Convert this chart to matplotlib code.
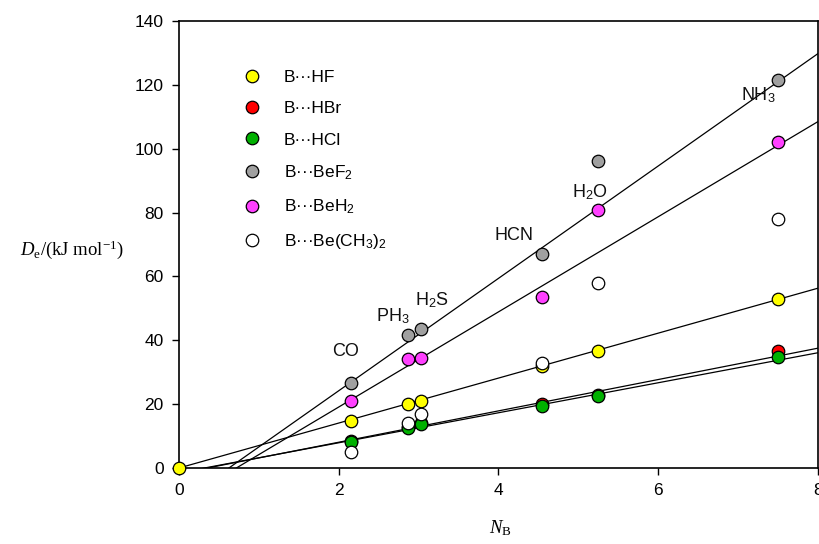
import numpy as np
import matplotlib
matplotlib.use("Agg")
import matplotlib.pyplot as plt
from matplotlib.lines import Line2D

plt.rcParams['font.family'] = ['Liberation Sans', 'DejaVu Sans']
plt.rcParams['mathtext.fontset'] = 'custom'
plt.rcParams['mathtext.rm'] = 'Liberation Serif'
plt.rcParams['mathtext.it'] = 'Liberation Serif:italic'
plt.rcParams['mathtext.sf'] = 'Liberation Sans'

# ---------------- data ----------------
bases = ["CO", "PH$_\\mathsf{3}$", "H$_\\mathsf{2}$S", "HCN", "H$_\\mathsf{2}$O", "NH$_\\mathsf{3}$"]
NB = [2.15, 2.87, 3.03, 4.55, 5.25, 7.50]

series_names = ["B\u00b7\u00b7\u00b7HF", "B\u00b7\u00b7\u00b7HBr", "B\u00b7\u00b7\u00b7HCl",
                "B\u00b7\u00b7\u00b7BeF$_\\mathsf{2}$", "B\u00b7\u00b7\u00b7BeH$_\\mathsf{2}$",
                "B\u00b7\u00b7\u00b7Be(CH$_\\mathsf{3}$)$_\\mathsf{2}$"]
HF = [14.8, 20.1, 21.1, 31.8, 36.8, 52.9]
HBr = [8.6, 12.9, 14.1, 20.2, 22.9, 36.8]
HCl = [8.2, 12.5, 13.8, 19.5, 22.4, 34.7]
BeF2 = [26.5, 41.7, 43.6, 67.0, 96.0, 121.6]
BeH2 = [21.1, 34.2, 34.6, 53.7, 80.9, 102.2]
BeMe2 = [5.1, 14.2, 16.9, 32.8, 57.9, 78.0]
origin_NB = [0.0]
origin_HF = [0.0]

# fitted straight lines (slope, intercept) for HF, HBr, HCl, BeF2, BeH2
fit_slope = [7.04, 4.91, 4.70, 17.6, 14.9]
fit_intercept = [0.0, -1.75, -1.5, -11.0, -10.7]

colors = ["#ffff00", "#ff0000", "#00b000", "#a0a0a0", "#ff40ff", "#ffffff"]

# ---------------- figure ----------------
fig = plt.figure(figsize=(8.2, 5.44), dpi=100)
ax = fig.add_axes([179/820, 1-468/544, 639/820, 447/544])

xs = np.array([0.0, 8.0])
for s, b in zip(fit_slope, fit_intercept):
    ax.plot(xs, s*xs + b, color='black', lw=0.9, zorder=2)

all_series = [HF, HBr, HCl, BeF2, BeH2, BeMe2]
handles = []
for name, vals, c in zip(series_names, all_series, colors):
    ax.plot(NB, vals, ls='none', marker='o', ms=9, mfc=c, mec='black', mew=0.9, zorder=3)
    handles.append(Line2D([], [], ls='none', marker='o', ms=9, mfc=c, mec='black', mew=0.9, label=name))
ax.plot(origin_NB, origin_HF, ls='none', marker='o', ms=9, mfc=colors[0], mec='black',
        mew=0.9, zorder=4, clip_on=False)

label_pos = [(2.09, 36.4), (2.68, 47.6), (3.17, 52.7), (4.19, 72.7), (5.14, 86.5), (7.25, 116.9)]
for t, (lx, ly) in zip(bases, label_pos):
    ax.text(lx, ly, t, fontsize=13, ha='center', va='center', color='#111111')

ax.set_xlim(0, 8)
ax.set_ylim(0, 140)
ax.set_xticks([0, 2, 4, 6, 8])
ax.set_yticks(np.arange(0, 141, 20))
ax.tick_params(direction='out', length=5, width=1, labelsize=12.5, pad=6)
for sp in ax.spines.values():
    sp.set_linewidth(1.2)

leg = ax.legend(handles=handles, loc='upper left', bbox_to_anchor=(0.100, 0.890),
                frameon=False, fontsize=12.5, handlelength=1.0, handletextpad=1.37,
                labelspacing=0.92, borderpad=0, borderaxespad=0)

fig.text(72/820, 1-250/544, "$D_\\mathrm{e}$/(kJ mol$^{-1}$)", fontsize=13.5,
         ha='center', va='center', family='Liberation Serif')
fig.text(500/820, 1-528/544, "$N_\\mathrm{B}$", fontsize=13.5, ha='center', va='center',
         family='Liberation Serif')

fig.savefig("out.png", dpi=100)
